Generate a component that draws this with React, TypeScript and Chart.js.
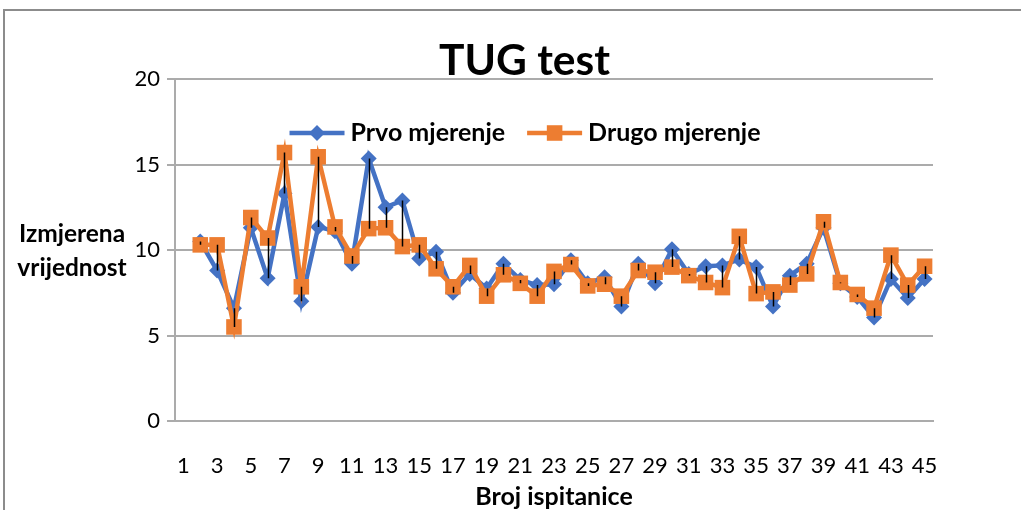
import React, { useEffect, useRef } from 'react';
import { Chart, registerables } from 'chart.js';

Chart.register(...registerables);

const categories = ['1', '2', '3', '4', '5', '6', '7', '8', '9', '10', '11', '12', '13', '14', '15', '16', '17', '18', '19', '20', '21', '22', '23', '24', '25', '26', '27', '28', '29', '30', '31', '32', '33', '34', '35', '36', '37', '38', '39', '40', '41', '42', '43', '44', '45'];

const prvoMjerenje = [null, 10.5, 8.8, 6.6, 11.3, 8.35, 13.3, 7.0, 11.35, 11.1, 9.2, 15.35, 12.5, 12.9, 9.5, 9.9, 7.5, 8.6, 7.75, 9.2, 8.25, 7.95, 8.0, 9.4, 8.05, 8.4, 6.7, 9.2, 8.05, 10.05, 8.6, 9.05, 9.1, 9.45, 9.0, 6.7, 8.5, 9.2, 11.3, 8.05, 7.25, 6.05, 8.3, 7.2, 8.3];

const drugoMjerenje = [null, 10.3, 10.3, 5.5, 11.9, 10.7, 15.7, 7.85, 15.45, 11.35, 9.65, 11.25, 11.3, 10.2, 10.3, 8.9, 7.85, 9.1, 7.3, 8.55, 8.05, 7.3, 8.75, 9.15, 7.9, 8.0, 7.3, 8.8, 8.7, 9.0, 8.5, 8.1, 7.8, 10.8, 7.45, 7.55, 7.95, 8.6, 11.65, 8.1, 7.4, 6.6, 9.7, 7.95, 9.05];

const yTicks = [0, 5, 10, 15, 20];

const seriesNames = ['Prvo mjerenje', 'Drugo mjerenje'];
const chartTitle = 'TUG test';
const xTitle = 'Broj ispitanice';
const yTitleLines = ['Izmjerena', 'vrijednost'];

const FONT = 'Lato';
const BLUE = '#4472C4';
const ORANGE = '#ED7D31';
const GRID = '#ababab';

function drawMarker(ctx: CanvasRenderingContext2D, style: string, x: number, y: number, r: number, color: string) {
  ctx.fillStyle = color;
  ctx.beginPath();
  if (style === 'rectRot') {
    ctx.moveTo(x - r, y);
    ctx.lineTo(x, y - r);
    ctx.lineTo(x + r, y);
    ctx.lineTo(x, y + r);
    ctx.closePath();
  } else {
    const s = Math.SQRT1_2 * r;
    ctx.rect(x - s, y - s, 2 * s, 2 * s);
  }
  ctx.fill();
}

export default function App() {
  const ref = useRef<HTMLCanvasElement>(null);

  useEffect(() => {
    const canvas = ref.current;
    if (!canvas) return;

    const framePlugin = {
      id: 'frame',
      beforeDraw(chart: any) {
        const ctx = chart.ctx;
        ctx.save();
        ctx.strokeStyle = '#8c8c8c';
        ctx.lineWidth = 2;
        ctx.strokeRect(4, 10, 2000, 2000);
        ctx.restore();
      },
    };

    const highLowPlugin = {
      id: 'highLow',
      afterDatasetsDraw(chart: any) {
        const xs = chart.scales.x;
        const ys = chart.scales.y;
        const ctx = chart.ctx;
        ctx.save();
        ctx.strokeStyle = '#000';
        ctx.lineWidth = 1.5;
        ctx.beginPath();
        for (let i = 0; i < categories.length; i++) {
          const a = prvoMjerenje[i];
          const b = drugoMjerenje[i];
          if (a == null || b == null) continue;
          const px = Math.round(xs.getPixelForValue(i)) + 0.5;
          ctx.moveTo(px, ys.getPixelForValue(a));
          ctx.lineTo(px, ys.getPixelForValue(b));
        }
        ctx.stroke();
        ctx.restore();
      },
    };

    const extrasPlugin = {
      id: 'extras',
      afterDraw(chart: any) {
        const ctx = chart.ctx;
        ctx.save();
        ctx.fillStyle = '#000';
        ctx.textBaseline = 'middle';

        // chart title
        ctx.font = `bold 42.5px ${FONT}`;
        ctx.textAlign = 'center';
        ctx.fillText(chartTitle, 524.5, 61.5);

        // y-axis title (horizontal, two lines)
        ctx.font = `bold 24.5px ${FONT}`;
        ctx.fillText(yTitleLines[0], 72, 234);
        ctx.fillText(yTitleLines[1], 72, 268);

        // legend
        ctx.font = `bold 25px ${FONT}`;
        const datasets = chart.data.datasets;
        const lineLen = 55;
        const gapText = 6;
        const gapItem = 22;
        const widths = datasets.map((ds: any) => ctx.measureText(ds.label).width);
        let total = 0;
        widths.forEach((w: number) => (total += lineLen + gapText + w));
        total += gapItem * (datasets.length - 1);
        let x = 525 - total / 2;
        const y = 133;
        ctx.textAlign = 'left';
        datasets.forEach((ds: any, i: number) => {
          ctx.strokeStyle = ds.borderColor;
          ctx.lineWidth = ds.borderWidth;
          ctx.beginPath();
          ctx.moveTo(x, y);
          ctx.lineTo(x + lineLen, y);
          ctx.stroke();
          drawMarker(ctx, ds.pointStyle, x + lineLen / 2, y, ds.pointRadius, ds.backgroundColor);
          ctx.fillStyle = '#000';
          ctx.fillText(ds.label, x + lineLen + gapText, y);
          x += lineLen + gapText + widths[i] + gapItem;
        });
        ctx.restore();
      },
    };

    const chart = new Chart(canvas, {
      type: 'line',
      data: {
        labels: categories,
        datasets: [
          {
            label: seriesNames[0],
            data: prvoMjerenje,
            borderColor: BLUE,
            backgroundColor: BLUE,
            borderWidth: 4.5,
            pointStyle: 'rectRot',
            pointRadius: 8,
            pointBorderWidth: 0,
            pointBackgroundColor: BLUE,
            tension: 0,
            order: 1,
          },
          {
            label: seriesNames[1],
            data: drugoMjerenje,
            borderColor: ORANGE,
            backgroundColor: ORANGE,
            borderWidth: 4.5,
            pointStyle: 'rect',
            pointRadius: 11,
            pointBorderWidth: 0,
            pointBackgroundColor: ORANGE,
            tension: 0,
            order: 0,
          },
        ] as any,
      },
      options: {
        animation: false,
        responsive: false,
        maintainAspectRatio: false,
        events: [],
        layout: { padding: { left: 28, right: 88, top: 79, bottom: 0 } },
        plugins: {
          legend: { display: false },
          tooltip: { enabled: false },
          title: { display: false },
        },
        scales: {
          x: {
            type: 'category',
            offset: true,
            grid: { display: false },
            border: { display: true, color: GRID, width: 2 },
            ticks: {
              autoSkip: false,
              maxRotation: 0,
              minRotation: 0,
              padding: 24,
              color: '#000',
              font: { family: FONT, size: 22 },
              callback: (_v: any, i: number) => (i % 2 === 0 ? categories[i] : ''),
            },
            title: {
              display: true,
              text: xTitle,
              color: '#000',
              font: { family: FONT, size: 25, weight: 'bold', lineHeight: 1 },
              padding: { top: 0, bottom: 1 },
            },
            afterFit: (s: any) => {
              s.height = 89;
            },
          },
          y: {
            min: yTicks[0],
            max: yTicks[yTicks.length - 1],
            ticks: {
              stepSize: yTicks[1] - yTicks[0],
              padding: 7,
              color: '#000',
              font: { family: FONT, size: 22 },
            },
            grid: { color: GRID, lineWidth: 2, tickLength: 8, drawTicks: true, tickColor: GRID },
            border: { display: true, color: GRID, width: 2 },
            afterFit: (s: any) => {
              s.width = 147;
            },
          },
        },
      } as any,
      plugins: [framePlugin, highLowPlugin, extrasPlugin],
    });

    return () => chart.destroy();
  }, []);

  return (
    <div style={{ position: 'fixed', left: 0, top: 0, width: 1021, height: 510, overflow: 'hidden', background: '#fff' }}>
      <canvas ref={ref} width={1021} height={510} style={{ display: 'block' }} />
    </div>
  );
}
